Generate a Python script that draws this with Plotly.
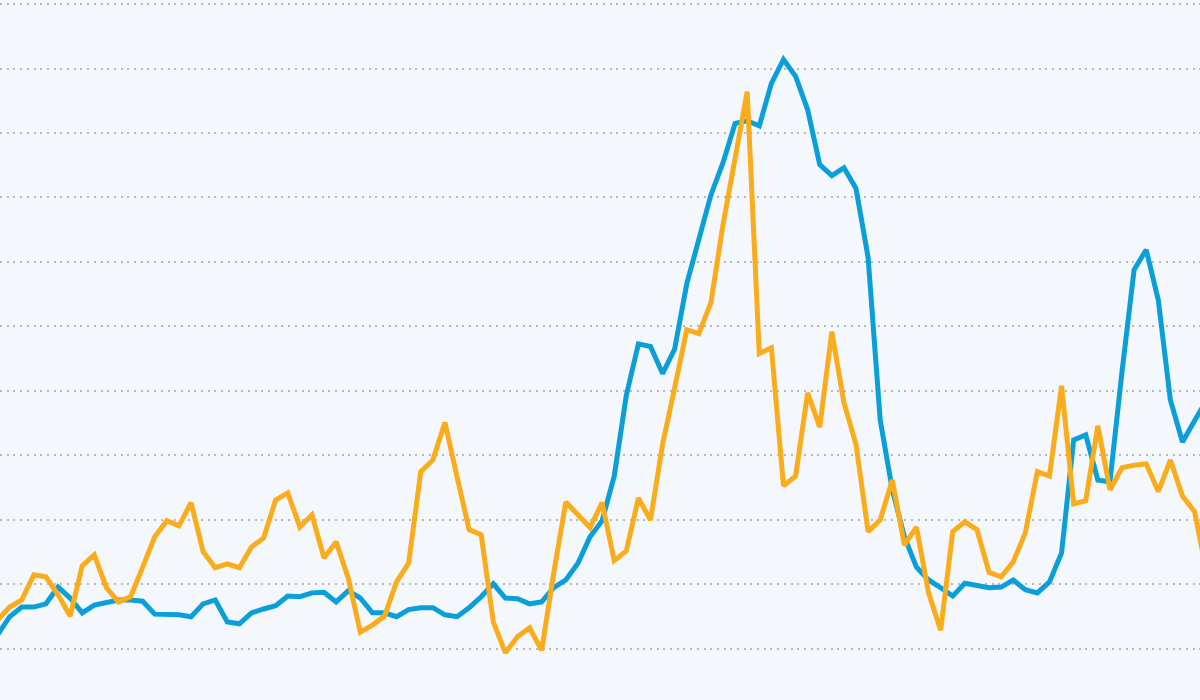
import plotly.graph_objects as go

steps = list(range(101))

orange_values = [
    0.45, 0.65, 0.76, 1.15, 1.12, 0.84, 0.51, 1.29, 1.46, 0.95,
    0.73, 0.81, 1.27, 1.74, 1.99, 1.91, 2.27, 1.51, 1.26, 1.32,
    1.26, 1.58, 1.72, 2.31, 2.42, 1.89, 2.08, 1.41, 1.66, 1.10,
    0.26, 0.37, 0.51, 1.04, 1.33, 2.75, 2.93, 3.51, 2.67, 1.85,
    1.77, 0.42, -0.06, 0.19, 0.33, -0.02, 1.18, 2.28, 2.08, 1.88,
    2.27, 1.37, 1.52, 2.34, 2.00, 3.17, 4.05, 4.95, 4.89, 5.37,
    6.58, 7.66, 8.64, 4.58, 4.67, 2.53, 2.68, 3.97, 3.44, 4.92,
    3.82, 3.17, 1.82, 2.00, 2.62, 1.61, 1.89, 0.87, 0.29, 1.82,
    1.97, 1.85, 1.19, 1.12, 1.35, 1.80, 2.75, 2.68, 4.08, 2.25,
    2.30, 3.46, 2.47, 2.81, 2.85, 2.87, 2.44, 2.93, 2.37, 2.13,
    1.18,
]

blue_values = [
    0.22, 0.50, 0.65, 0.65, 0.70, 0.96, 0.79, 0.56, 0.68, 0.73,
    0.76, 0.76, 0.74, 0.54, 0.54, 0.53, 0.50, 0.70, 0.76, 0.42,
    0.39, 0.56, 0.62, 0.67, 0.82, 0.81, 0.87, 0.88, 0.73, 0.90,
    0.79, 0.56, 0.56, 0.50, 0.61, 0.64, 0.64, 0.53, 0.50, 0.64,
    0.81, 1.01, 0.79, 0.78, 0.70, 0.73, 0.95, 1.07, 1.33, 1.74,
    1.99, 2.68, 3.93, 4.73, 4.69, 4.27, 4.65, 5.66, 6.35, 7.04,
    7.54, 8.15, 8.19, 8.11, 8.77, 9.14, 8.88, 8.36, 7.51, 7.34,
    7.46, 7.14, 6.07, 3.55, 2.47, 1.74, 1.27, 1.07, 0.95, 0.82,
    1.02, 0.99, 0.95, 0.96, 1.07, 0.92, 0.87, 1.04, 1.49, 3.24,
    3.32, 2.62, 2.59, 4.30, 5.88, 6.19, 5.41, 3.86, 3.21, 3.54,
    3.86,
]

fig = go.Figure()
fig.add_trace(go.Scatter(x=steps, y=blue_values, mode="lines",
                         line=dict(color="#0A9FD8", width=5),
                         showlegend=False, hoverinfo="skip"))
fig.add_trace(go.Scatter(x=steps, y=orange_values, mode="lines",
                         line=dict(color="#FBAC1C", width=5),
                         showlegend=False, hoverinfo="skip"))

fig.update_layout(
    width=1200, height=700,
    margin=dict(l=0, r=0, t=0, b=0),
    paper_bgcolor="#F4F8FC",
    plot_bgcolor="#F4F8FC",
    showlegend=False,
    xaxis=dict(range=[0.2, 99.45], showgrid=False, zeroline=False,
               showticklabels=False, ticks="", showline=False),
    yaxis=dict(range=[-0.791, 10.062], dtick=1, tick0=0,
               showgrid=True, gridcolor="#B8B8B8", gridwidth=2,
               griddash="2px,4.7px", zeroline=False,
               showticklabels=False, ticks="", showline=False),
)

fig.write_html("out.html")
